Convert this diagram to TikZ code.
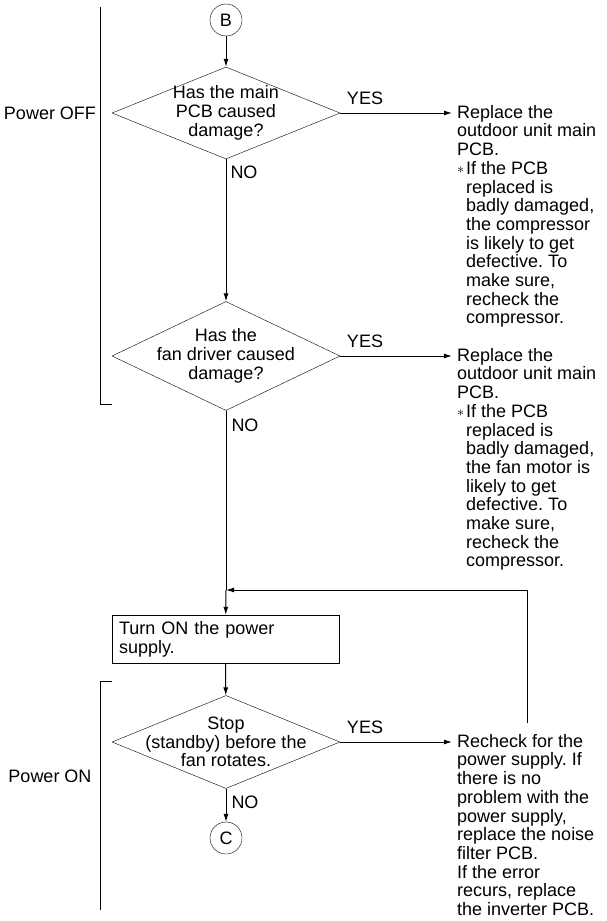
\documentclass[tikz,border=0pt]{standalone}
\usepackage{fontspec}
\setmainfont{Liberation Sans}
\usetikzlibrary{shapes.geometric,arrows.meta}
\frenchspacing

\tikzset{
  connector/.style={draw, circle, minimum size=32pt, inner sep=0pt},
  decision/.style={draw, diamond, aspect=2.4, align=center, inner xsep=-4pt, inner ysep=-16pt, minimum width=228pt},
  procbox/.style={draw, rectangle, align=left, text width=213pt, minimum height=48pt, inner xsep=7pt, inner ysep=0pt},
  remark/.style={anchor=north west, align=left, inner sep=0pt},
  flowline/.style={line width=1pt},
}
\newcommand{\starmark}{\makebox[9pt][l]{\raisebox{0.5pt}{\fontsize{14}{14}\selectfont$\ast$}}}
\newcommand{\indnt}{\hspace*{9pt}}

\begin{document}
\begin{tikzpicture}[x=1pt, y=-1pt, >={Latex[length=8pt,width=5pt]}, font=\fontsize{18}{18.7}\selectfont]
\useasboundingbox (0,0) rectangle (607,921);

% main column
\node[connector] (B) at (226,20) {B};
\node[decision, minimum height=92pt] (main) at (226,113) {Has the main\\PCB caused\\damage?};
\node[decision, minimum height=109pt] (fan) at (226,356) {Has the\\fan driver caused\\damage?};
\node[procbox] (power) at (225.5,639) {Turn ON the power\\supply.};
\node[decision, minimum height=93pt] (standby) at (226,742) {Stop\\(standby) before the\\fan rotates.};
\node[connector] (C) at (226,838) {C};

% remarks on the right
\node[remark] (repmain) at (457,105) {Replace the\\outdoor unit main\\PCB.\\\starmark If the PCB\\\indnt replaced is\\\indnt badly damaged,\\\indnt the compressor\\\indnt is likely to get\\\indnt defective. To\\\indnt make sure,\\\indnt recheck the\\\indnt compressor.};
\node[remark] (repfan) at (457,348) {Replace the\\outdoor unit main\\PCB.\\\starmark If the PCB\\\indnt replaced is\\\indnt badly damaged,\\\indnt the fan motor is\\\indnt likely to get\\\indnt defective. To\\\indnt make sure,\\\indnt recheck the\\\indnt compressor.};
\node[remark] (recheck) at (457,734) {Recheck for the\\power supply. If\\there is no\\problem with the\\power supply,\\replace the noise\\filter PCB.\\If the error\\recurs, replace\\the inverter PCB.};

% branch labels
\node (yesmain) at (365,98) {YES};
\node (nomain) at (244,172) {NO};
\node (yesfan) at (365,341) {YES};
\node (nofan) at (245,425) {NO};
\node (yesstandby) at (365,727) {YES};
\node (nostandby) at (245,802) {NO};

% side labels
\node (off) at (50,113) {Power OFF};
\node (on) at (50,776) {Power ON};
\draw[flowline] (100,7) -- (100,404) -- (112,404);
\draw[flowline] (112,681) -- (100,681) -- (100,910);

% connectors
\coordinate (merge) at (226,590);
\coordinate (loop) at (527,590);
\draw[flowline, ->] (B) -- (main);
\draw[flowline, ->] (main) -- (fan);
\draw[flowline] (fan.south) -- (merge);
\draw[flowline, ->] (merge) -- (power);
\draw[flowline, ->] (power) -- (standby);
\draw[flowline, ->] (standby) -- (C);
\draw[flowline, ->, shorten >=5pt] (main.east) -- (main.east -| repmain.west);
\draw[flowline, ->, shorten >=5pt] (fan.east) -- (fan.east -| repfan.west);
\draw[flowline, ->, shorten >=5pt] (standby.east) -- (standby.east -| recheck.west);
\draw[flowline, ->] ([yshift=11pt]recheck.north -| loop) -- (loop) -- (merge);
\end{tikzpicture}
\end{document}
